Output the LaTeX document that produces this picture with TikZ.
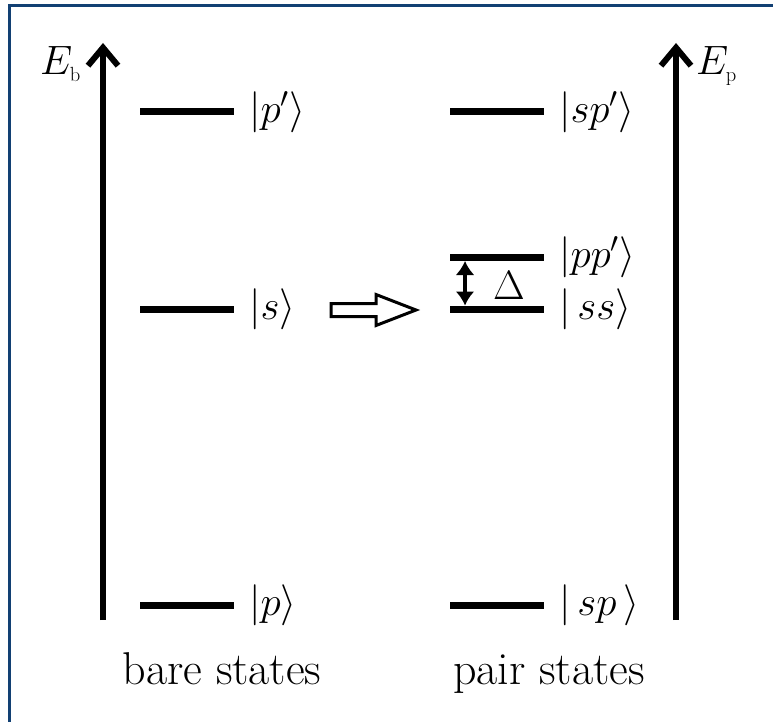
\RequirePackage{fix-cm}
\documentclass[tikz,border=0pt]{standalone}
\usetikzlibrary{arrows.meta}
\definecolor{frameblue}{RGB}{18,64,115}
\tikzset{
  big/.style={font=\fontsize{41}{49}\selectfont, inner sep=0pt},
  captiontext/.style={font=\fontsize{46}{55}\selectfont, inner sep=0pt},
  level/.style={draw=none, fill=black, minimum width=94pt, minimum height=7pt, inner sep=0pt},
  axis/.style={line width=6pt, -{Straight Barb[length=18pt,width=30pt,line width=6pt]}},
  lbl/.style={big, anchor=west},
}
\begin{document}
\begin{tikzpicture}[x=1pt,y=-1pt]
\useasboundingbox (0,0) rectangle (773,722);
% frame (left and top edges)
\draw[frameblue, line width=3pt] (9.5,722) -- (9.5,5.5) -- (773,5.5);
% axes
\coordinate (ab0) at (103,620);
\coordinate (ab1) at (103,43);
\coordinate (ap0) at (676,620);
\coordinate (ap1) at (676,43);
\draw[axis] (ab0) -- (ab1);
\draw[axis] (ap0) -- (ap1);
\node[big, anchor=base west] (Eb) at (40,75) {$E_{\scriptscriptstyle\mathrm{b}}$};
\node[big, anchor=base west] (Ep) at (696,75) {$E_{\scriptscriptstyle\mathrm{p}}$};
% bare levels
\node[level] (bp1) at (187,112) {};
\node[level] (bs)  at (187,309) {};
\node[level] (bp)  at (187,605) {};
\node[lbl] (lp1) at (249,112) {$|p'\rangle$};
\node[lbl] (ls)  at (249,309) {$|s\rangle$};
\node[lbl] (lp)  at (249,605) {$|p\rangle$};
% pair levels
\node[level] (psp1) at (497,112) {};
\node[level] (ppp1) at (497,257) {};
\node[level] (pss)  at (497,309) {};
\node[level] (psp)  at (497,605) {};
\node[lbl] (lsp1) at (559,112) {$|sp'\rangle$};
\node[lbl] (lpp1) at (559,257) {$|pp'\rangle$};
\node[lbl] (lss)  at (559,309) {$|\,ss\rangle$};
\node[lbl] (lsp)  at (559,605) {$|\,sp\,\rangle$};
% hollow arrow
\draw[line width=3pt, line join=miter, fill=white]
  (331,303.5) -- (376,303.5) -- (376,294.5) -- (416,310) -- (376,325.5) -- (376,316.5) -- (331,316.5) -- cycle;
% splitting arrow
\coordinate (d1) at (465,261);
\coordinate (d0) at (465,305.5);
\draw[line width=4pt, {Latex[length=14pt,width=19pt]}-{Latex[length=14pt,width=19pt]}] (d0) -- (d1);
\node[big] (delta) at (509,285) {$\Delta$};
% captions
\node[captiontext, anchor=base] (bare) at (222,684) {bare states};
\node[captiontext, anchor=base] (pair) at (549,684) {pair states};
\end{tikzpicture}
\end{document}
